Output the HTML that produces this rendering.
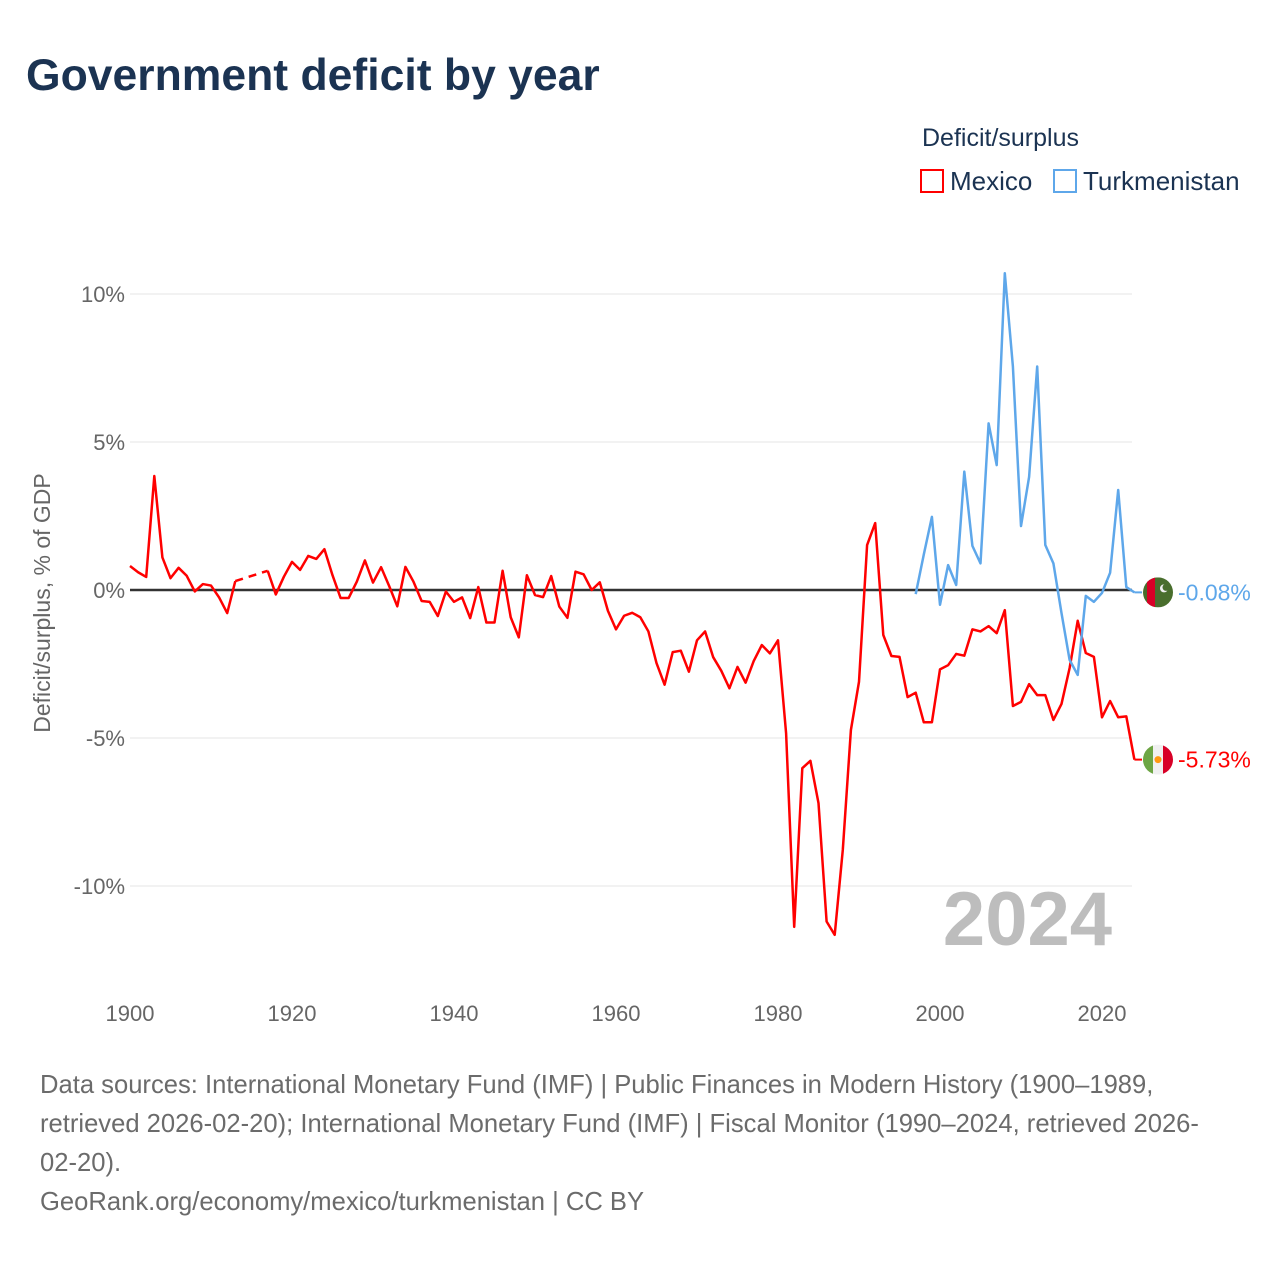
<!DOCTYPE html>
<html><head><meta charset="utf-8">
<style>
body{margin:0;background:#fff;font-family:"Liberation Sans",sans-serif;}
#wrap{position:relative;width:1280px;height:1280px;overflow:hidden;}
.t{position:absolute;white-space:nowrap;}
</style></head>
<body>
<div id="wrap">
<div class="t" style="left:26px;top:51px;font-size:44.5px;font-weight:bold;color:#1b3352;">Government deficit by year</div>
<div class="t" style="left:922px;top:124px;font-size:25px;color:#1b3352;">Deficit/surplus</div>
<div class="t" style="left:920px;top:166px;font-size:26px;color:#1b3352;"><span style="display:inline-block;width:24px;height:24px;border:2px solid #f00;box-sizing:border-box;vertical-align:-3px;margin-right:6px;"></span>Mexico</div>
<div class="t" style="left:1053px;top:166px;font-size:26px;color:#1b3352;"><span style="display:inline-block;width:24px;height:24px;border:2px solid #5ea7ea;box-sizing:border-box;vertical-align:-3px;margin-right:6px;"></span>Turkmenistan</div>
<svg id="plot" width="1280" height="1280" style="position:absolute;left:0;top:0"></svg>
<div class="t" style="left:40px;top:1066px;font-size:25.6px;line-height:39px;color:#6b6b6b;">Data sources: International Monetary Fund (IMF) | Public Finances in Modern History (1900–1989,<br>retrieved 2026-02-20); International Monetary Fund (IMF) | Fiscal Monitor (1990–2024, retrieved 2026-<br>02-20).<br>GeoRank.org/economy/mexico/turkmenistan | CC BY</div>
</div>
<script>
const mexYears=[1900,1901,1902,1903,1904,1905,1906,1907,1908,1909,1910,1911,1912,1913,1917,1918,1919,1920,1921,1922,1923,1924,1925,1926,1927,1928,1929,1930,1931,1932,1933,1934,1935,1936,1937,1938,1939,1940,1941,1942,1943,1944,1945,1946,1947,1948,1949,1950,1951,1952,1953,1954,1955,1956,1957,1958,1959,1960,1961,1962,1963,1964,1965,1966,1967,1968,1969,1970,1971,1972,1973,1974,1975,1976,1977,1978,1979,1980,1981,1982,1983,1984,1985,1986,1987,1988,1989,1990,1991,1992,1993,1994,1995,1996,1997,1998,1999,2000,2001,2002,2003,2004,2005,2006,2007,2008,2009,2010,2011,2012,2013,2014,2015,2016,2017,2018,2019,2020,2021,2022,2023,2024];
const mexValues=[0.81,0.6,0.44,3.85,1.1,0.4,0.75,0.48,-0.05,0.2,0.15,-0.25,-0.78,0.3,0.65,-0.15,0.45,0.95,0.68,1.15,1.05,1.38,0.5,-0.27,-0.27,0.28,1.0,0.25,0.77,0.13,-0.55,0.78,0.28,-0.37,-0.4,-0.88,-0.05,-0.4,-0.25,-0.95,0.1,-1.1,-1.1,0.65,-0.92,-1.6,0.5,-0.17,-0.24,0.47,-0.56,-0.94,0.62,0.53,0.0,0.26,-0.7,-1.33,-0.87,-0.77,-0.92,-1.4,-2.47,-3.2,-2.1,-2.05,-2.76,-1.7,-1.4,-2.27,-2.73,-3.32,-2.6,-3.13,-2.4,-1.86,-2.14,-1.7,-4.84,-11.38,-6.02,-5.77,-7.2,-11.2,-11.65,-8.78,-4.73,-3.1,1.52,2.26,-1.52,-2.23,-2.26,-3.62,-3.47,-4.47,-4.47,-2.68,-2.54,-2.16,-2.22,-1.33,-1.4,-1.22,-1.46,-0.68,-3.92,-3.78,-3.18,-3.55,-3.55,-4.39,-3.85,-2.64,-1.04,-2.13,-2.26,-4.3,-3.75,-4.3,-4.27,-5.73];
const tkmYears=[1997,1998,1999,2000,2001,2002,2003,2004,2005,2006,2007,2008,2009,2010,2011,2012,2013,2014,2015,2016,2017,2018,2019,2020,2021,2022,2023,2024];
const tkmValues=[-0.14,1.2,2.47,-0.5,0.84,0.17,4.0,1.49,0.9,5.63,4.22,10.7,7.55,2.16,3.82,7.55,1.52,0.9,-0.78,-2.36,-2.87,-0.2,-0.4,-0.1,0.58,3.38,0.1,-0.08];
const yTicks=[10,5,0,-5,-10];
const yTickLabels=["10%","5%","0%","-5%","-10%"];
const xTicks=[1900,1920,1940,1960,1980,2000,2020];

const X=y=>130+(y-1900)*8.1;
const Y=v=>590-v*29.6;
const svg=document.getElementById('plot');
const NS='http://www.w3.org/2000/svg';
function mk(tag,attrs){const e=document.createElementNS(NS,tag);for(const k in attrs)e.setAttribute(k,attrs[k]);svg.appendChild(e);return e;}

yTicks.forEach((t,i)=>{
  const g=mk('line',{x1:130,x2:1132,y1:Y(t),y2:Y(t),stroke:t===0?'#333':'#e6e6e6','stroke-width':t===0?2.5:1});
  
  
  const l=mk('text',{x:125,y:Y(t)+8,'text-anchor':'end','font-size':22,fill:'#666','font-family':'Liberation Sans, sans-serif'});
  l.textContent=yTickLabels[i];
  
  
});
xTicks.forEach(t=>{
  const l=mk('text',{x:X(t),y:1021,'text-anchor':'middle','font-size':22,fill:'#666','font-family':'Liberation Sans, sans-serif'});
  l.textContent=t;
  
  
});
const yt=mk('text',{x:0,y:0,transform:'translate(50,603) rotate(-90)','text-anchor':'middle','font-size':23,fill:'#666','font-family':'Liberation Sans, sans-serif'});
yt.textContent='Deficit/surplus, % of GDP';



const yr=mk('text',{x:1112,y:945,'text-anchor':'end','font-size':76,'font-weight':'bold',fill:'#bdbdbd','font-family':'Liberation Sans, sans-serif'});
yr.textContent='2024';



function series(years,vals,color,name){
  let segs=[[0]];
  for(let i=1;i<years.length;i++){
    if(years[i]-years[i-1]>1){
      const d=mk('line',{x1:X(years[i-1]),y1:Y(vals[i-1]),x2:X(years[i]),y2:Y(vals[i]),stroke:color,'stroke-width':2.5,'stroke-dasharray':'8,6'});
      
      
      segs.push([i]);
    } else segs[segs.length-1].push(i);
  }
  segs.forEach(s=>{
    const p=mk('polyline',{points:s.map(i=>X(years[i])+','+Y(vals[i])).join(' '),fill:'none',stroke:color,'stroke-width':2.5,'stroke-linejoin':'round'});
    
    
  });
  const last=years.length-1;
  const e=mk('line',{x1:X(years[last]),y1:Y(vals[last]),x2:1142,y2:Y(vals[last]),stroke:color,'stroke-width':2});
  
  
}
series(mexYears,mexValues,'#ff0000','mexico');
series(tkmYears,tkmValues,'#5ea7ea','turkmenistan');

function flag(cy,kind,val,color){
  const g=document.createElementNS(NS,'g');svg.appendChild(g);
  
  
  const cid='c'+kind;
  g.innerHTML='<defs><clipPath id="'+cid+'"><circle cx="1158" cy="'+cy+'" r="15"/></clipPath></defs>'+
   (kind==='mexico'
    ?'<g clip-path="url(#'+cid+')"><rect x="1143" y="'+(cy-15)+'" width="10" height="30" fill="#6da544"/><rect x="1153" y="'+(cy-15)+'" width="10" height="30" fill="#f0f0f0"/><rect x="1163" y="'+(cy-15)+'" width="10" height="30" fill="#d80027"/><circle cx="1158" cy="'+cy+'" r="3.5" fill="#ff9811"/></g>'
    :'<g clip-path="url(#'+cid+')"><rect x="1143" y="'+(cy-15)+'" width="30" height="30" fill="#496e2d"/><rect x="1147" y="'+(cy-15)+'" width="8" height="30" fill="#d80027"/><circle cx="1164" cy="'+(cy-4)+'" r="4" fill="#f0f0f0"/><circle cx="1166" cy="'+(cy-5)+'" r="3.5" fill="#496e2d"/></g>');
  const t=mk('text',{x:1178,y:cy+8,'font-size':23,fill:color,'font-family':'Liberation Sans, sans-serif'});
  t.textContent=val;
  
  
}
flag(Y(tkmValues[tkmValues.length-1]),'turkmenistan','-0.08%','#5ea7ea');
flag(Y(mexValues[mexValues.length-1]),'mexico','-5.73%','#ff0000');
</script>
</body></html>
